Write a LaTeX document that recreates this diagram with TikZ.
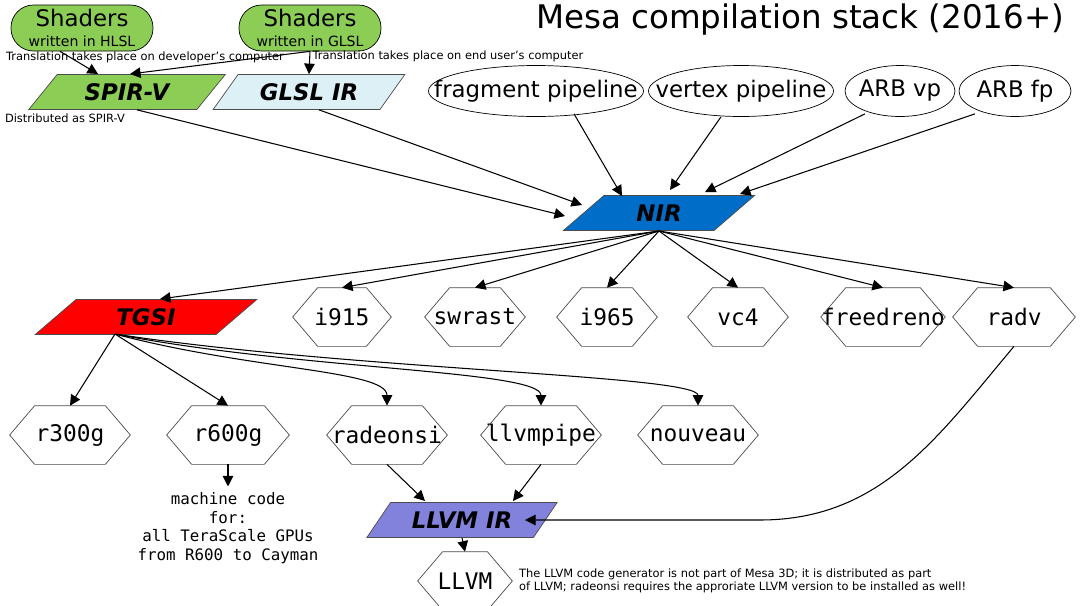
\documentclass[tikz,border=0pt]{standalone}
\usepackage{fontspec}
\setmainfont{DejaVu Sans}
\newfontfamily\monof{DejaVu Sans Mono}
\usetikzlibrary{shapes.geometric,arrows.meta}
\begin{document}
\begin{tikzpicture}[x=0.02cm,y=-0.02cm,
 ar/.style={-{Triangle[length=6pt,width=6pt]},line width=0.6pt},
 para/.style={trapezium,trapezium left angle=45,trapezium right angle=135,trapezium stretches=true,draw=black!70,minimum height=0.7cm,inner sep=0pt,font=\bfseries\itshape\fontsize{13}{15}\selectfont},
 ell/.style={draw=none,rectangle,minimum height=1.02cm,inner sep=0pt,font=\fontsize{13}{15}\selectfont},
 hex/.style={draw=none,minimum height=1.16cm,inner sep=0pt,font=\monof\fontsize{13}{15}\selectfont},
 sh/.style={rounded corners=0.45cm,draw,minimum width=2.84cm,minimum height=0.92cm,inner sep=0pt,align=center},
 small/.style={font=\fontsize{6.5}{7.5}\selectfont}]
\useasboundingbox[fill=white] (0,0) rectangle (1080,606);
\newcommand\hx[4]{% name, pos, width, text
 \node[hex,minimum width=#3*0.02cm] (#1) at (#2) {#4};
 \draw[black!70] (#1.west) -- ([xshift=0.5cm]#1.north west) -- ([xshift=-0.5cm]#1.north east) -- (#1.east) -- ([xshift=-0.5cm]#1.south east) -- ([xshift=0.5cm]#1.south west) -- cycle;}
\newcommand\el[4]{% name, pos, width, text
 \node[ell,minimum width=#3*0.02cm] (#1) at (#2) {#4};
 \draw (#2) ellipse ({#3/2} and 25.5);}
\node[font=\fontsize{18.5}{22}\selectfont,anchor=west] (title) at (530,20) {Mesa compilation stack (2016+)};
\node[sh,fill={rgb,255:red,140;green,205;blue,85}] (hlsl) at (82,28) {{\fontsize{13}{14}\selectfont Shaders}\\[-1pt]{\fontsize{8}{9}\selectfont written in HLSL}};
\node[sh,fill={rgb,255:red,140;green,205;blue,85}] (glsl) at (310,28) {{\fontsize{13}{14}\selectfont Shaders}\\[-1pt]{\fontsize{8}{9}\selectfont written in GLSL}};
\node[small] (t1) at (145,57) {Translation takes place on developer's computer};
\node[small] (t2) at (448,56) {Translation takes place on end user's computer};
\node[para,fill={rgb,255:red,140;green,205;blue,85},minimum width=3.94cm] (spirv) at (127,92) {SPIR-V};
\node[para,fill={rgb,255:red,220;green,240;blue,245},minimum width=3.84cm] (glslir) at (309,92) {GLSL IR};
\node[small] (t3) at (65,118) {Distributed as SPIR-V};
\el{frag}{536,91}{215}{fragment pipeline}
\el{vert}{741,91}{185}{vertex pipeline}
\el{arbvp}{900,91}{110}{ARB vp}
\el{arbfp}{1015,91}{112}{ARB fp}
\node[para,fill={rgb,255:red,0;green,110;blue,200},minimum width=3.84cm] (nir) at (659,213) {NIR};
\node[para,fill=red,minimum width=4.44cm] (tgsi) at (146,317) {TGSI};
\hx{i915}{342,317}{98}{i915}
\hx{swrast}{475,317}{100}{swrast}
\hx{i965}{607,317}{100}{i965}
\hx{vc4}{738,317}{100}{vc4}
\hx{freedreno}{883,317}{122}{freedreno}
\hx{radv}{1014,317}{122}{radv}
\hx{r300g}{70,435}{120}{r300g}
\hx{r600g}{228,435}{122}{r600g}
\hx{radeonsi}{387,435}{120}{radeonsi}
\hx{llvmpipe}{541,435}{120}{llvmpipe}
\hx{nouveau}{698,435}{120}{nouveau}
\node[align=center,font=\monof\fontsize{9}{10.5}\selectfont] (mc) at (228,528) {machine code\\for:\\all TeraScale GPUs\\from R600 to Cayman};
\node[para,fill={rgb,255:red,130;green,130;blue,220},minimum width=3.82cm] (llvmir) at (462,520) {LLVM IR};
\hx{llvm}{465,581}{94}{LLVM}
\node[small,align=left,anchor=west] (t4) at (513,581) {The LLVM code generator is not part of Mesa 3D; it is distributed as part\\of LLVM; radeonsi requires the approriate LLVM version to be installed as well!};
\draw[ar] (hlsl.south) ++(-22,0) -- (98,74);
\draw[ar] (glsl.south) -- (130,74);
\draw[ar] (glsl.south) -- (glslir.north);
\draw[ar] (spirv.south) ++(10,0) -- (565,216);
\draw[ar] (glslir.south) ++(10,0) -- (582,205);
\draw[ar] (frag.south) ++(38,-3) -- (622,196);
\draw[ar] (vert.south) ++(-20,0) -- (670,190);
\draw[ar] (arbvp.south) ++(-35,-3) -- (705,192);
\draw[ar] (arbfp.south) ++(-40,-3) -- (740,194);
\coordinate (nb) at (659,231);
\draw[ar] (nb) -- (160,299);
\draw[ar] (nb) -- (i915.north);
\draw[ar] (nb) -- (swrast.north);
\draw[ar] (nb) -- (i965.north);
\draw[ar] (nb) -- (vc4.north);
\draw[ar] (nb) -- (freedreno.north);
\draw[ar] (nb) -- (radv.north);
\coordinate (tb) at (115,334);
\draw[ar] (tb) -- (r300g.north);
\draw[ar] (tb) -- (r600g.north);
\draw[ar] (tb) .. controls (250,370) and (387,370) .. (radeonsi.north);
\draw[ar] (tb) .. controls (300,370) and (541,370) .. (llvmpipe.north);
\draw[ar] (tb) .. controls (350,370) and (698,375) .. (nouveau.north);
\draw[ar] (r600g.south) -- (mc.north);
\draw[ar] (radeonsi.south) -- (425,501);
\draw[ar] (llvmpipe.south) -- (513,501);
\draw[ar] (radv.south) to[out=-130,in=0] (760,520) -- (525,520);
\draw[ar] (llvmir.south) -- (llvm.north);
\end{tikzpicture}
\end{document}
